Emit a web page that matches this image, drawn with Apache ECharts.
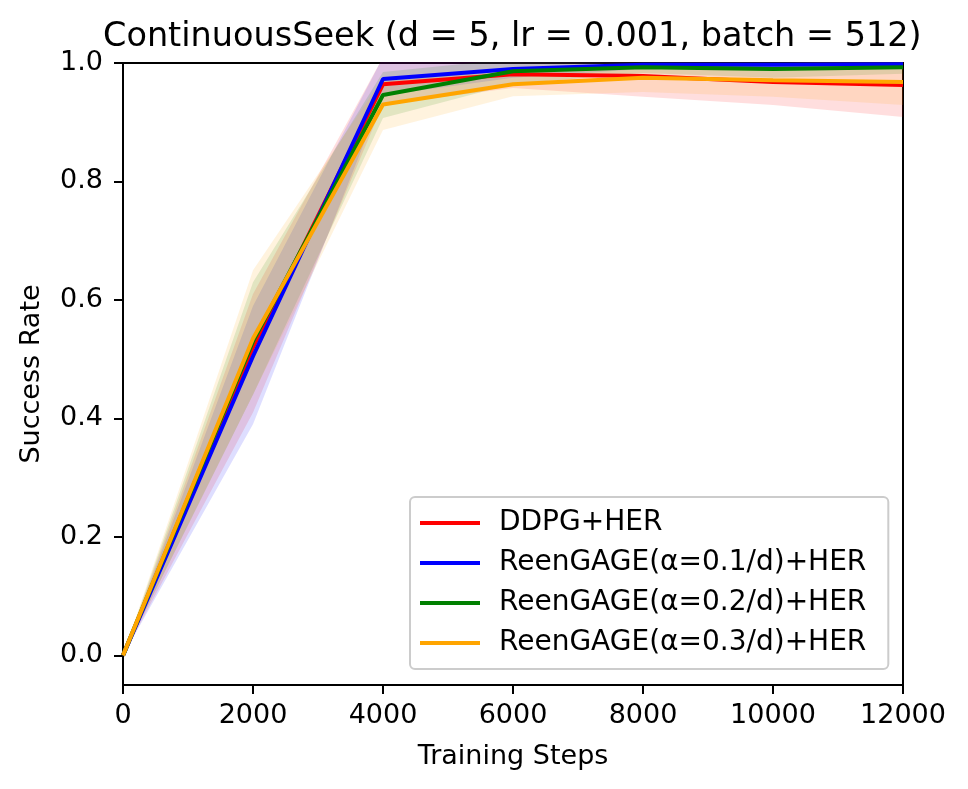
<!DOCTYPE html>
<html>
<head>
	<meta charset="utf-8">
	<title>ContinuousSeek</title>
	<style type="text/css">
		* { padding: 0; margin: 0; }
		body { background: #fff; }
		#chart { width: 968px; height: 789px; }
	</style>
</head>
<body>
	<div id="chart"></div>

<script type="text/javascript" src="https://cdn.jsdelivr.net/npm/echarts@6/dist/echarts.min.js"></script>
<script type="text/javascript">
	// training steps on the x axis
	var steps = ['0', '2000', '4000', '6000', '8000', '10000', '12000'];
	var yTicks = [0.0, 0.2, 0.4, 0.6, 0.8, 1.0];

	// mean success rate and shaded band (low / high) per method
	var ddpgMean = [0, 0.52, 0.964, 0.981, 0.978, 0.968, 0.963];
	var ddpgLow  = [0, 0.41, 0.930, 0.958, 0.943, 0.929, 0.909];
	var ddpgHigh = [0, 0.61, 1.010, 1.004, 1.013, 1.007, 1.017];

	var a1Mean = [0, 0.505, 0.973, 0.990, 0.997, 0.997, 0.998];
	var a1Low  = [0, 0.39, 0.945, 0.975, 0.990, 0.990, 0.990];
	var a1High = [0, 0.59, 1.010, 1.005, 1.004, 1.004, 1.006];

	var a2Mean = [0, 0.53, 0.946, 0.986, 0.993, 0.990, 0.993];
	var a2Low  = [0, 0.44, 0.907, 0.965, 0.983, 0.975, 0.982];
	var a2High = [0, 0.63, 0.985, 1.007, 1.003, 1.005, 1.004];

	var a3Mean = [0, 0.535, 0.930, 0.964, 0.975, 0.971, 0.968];
	var a3Low  = [0, 0.44, 0.887, 0.944, 0.951, 0.943, 0.929];
	var a3High = [0, 0.65, 0.975, 0.985, 0.999, 0.999, 1.007];

	var names = ['DDPG+HER', 'ReenGAGE(α=0.1/d)+HER', 'ReenGAGE(α=0.2/d)+HER', 'ReenGAGE(α=0.3/d)+HER'];
	var colors = ['#ff0000', '#0000ff', '#008000', '#ffa500'];

	// band = invisible lower line + stacked (high - low) area
	function band(key, low, high, color) {
		var diff = high.map(function (h, i) { return h - low[i]; });
		return [{
			type: 'line', name: key + '_low', stack: key, data: low,
			symbol: 'none', silent: true, lineStyle: { opacity: 0 }, z: 1
		}, {
			type: 'line', name: key + '_band', stack: key, data: diff,
			symbol: 'none', silent: true, lineStyle: { opacity: 0 },
			areaStyle: { color: color, opacity: 0.13 }, z: 1
		}];
	}

	function meanLine(name, ys, color) {
		return {
			type: 'line', name: name, data: ys, symbol: 'none',
			lineStyle: { color: color, width: 4 }, itemStyle: { color: color }, z: 3
		};
	}

	var series = [].concat(
		band('b0', ddpgLow, ddpgHigh, colors[0]),
		band('b1', a1Low, a1High, colors[1]),
		band('b2', a2Low, a2High, colors[2]),
		band('b3', a3Low, a3High, colors[3]),
		[meanLine(names[0], ddpgMean, colors[0]),
		 meanLine(names[1], a1Mean, colors[1]),
		 meanLine(names[2], a2Mean, colors[2]),
		 meanLine(names[3], a3Mean, colors[3])]
	);

	var font = 'DejaVu Sans';
	var chart = echarts.init(document.getElementById('chart'));
	var option = {
		animation: false,
		backgroundColor: '#fff',
		title: {
			text: 'ContinuousSeek (d = 5, lr = 0.001, batch = 512)',
			left: 103,
			top: 20,
			padding: 0,
			textStyle: { fontFamily: font, fontSize: 33.5, fontWeight: 'normal', color: '#000' }
		},
		grid: {
			left: 123, right: 65, top: 63, bottom: 104,
			show: true, borderColor: '#000', borderWidth: 2,
			containLabel: false
		},
		legend: {
			data: names.map(function (n) { return { name: n, icon: 'rect' }; }),
			orient: 'vertical',
			left: 410,
			top: 497,
			padding: [11, 22, 11, 10],
			itemWidth: 60,
			itemHeight: 4,
			itemGap: 10,
			backgroundColor: 'rgba(255,255,255,0.8)',
			borderColor: '#cccccc',
			borderWidth: 2,
			borderRadius: 5,
			textStyle: { fontFamily: font, fontSize: 28, color: '#000', lineHeight: 30, padding: [0, 0, 0, 14] }
		},
		xAxis: {
			type: 'category',
			data: steps,
			boundaryGap: false,
			name: 'Training Steps',
			nameLocation: 'middle',
			nameGap: 58,
			nameTextStyle: { fontFamily: font, fontSize: 27, color: '#000' },
			axisLine: { show: true, onZero: false, lineStyle: { color: '#000', width: 2 } },
			axisTick: { show: true, inside: false, length: 9, alignWithLabel: true, lineStyle: { color: '#000', width: 2 } },
			axisLabel: { fontFamily: font, fontSize: 27, color: '#000', margin: 17, interval: 0 },
			splitLine: { show: false }
		},
		yAxis: {
			type: 'value',
			min: -0.05, max: 1.0,
			name: 'Success Rate',
			nameLocation: 'middle',
			nameGap: 78,
			nameTextStyle: { fontFamily: font, fontSize: 27, color: '#000' },
			axisLine: { show: true, onZero: false, lineStyle: { color: '#000', width: 2 } },
			axisTick: { show: true, inside: false, length: 9, customValues: yTicks, lineStyle: { color: '#000', width: 2 } },
			axisLabel: {
				fontFamily: font, fontSize: 27, color: '#000', margin: 20,
				customValues: yTicks,
				formatter: function (v) { return v.toFixed(1); }
			},
			splitLine: { show: false }
		},
		series: series
	};
	chart.setOption(option);
</script>
</body>
</html>
